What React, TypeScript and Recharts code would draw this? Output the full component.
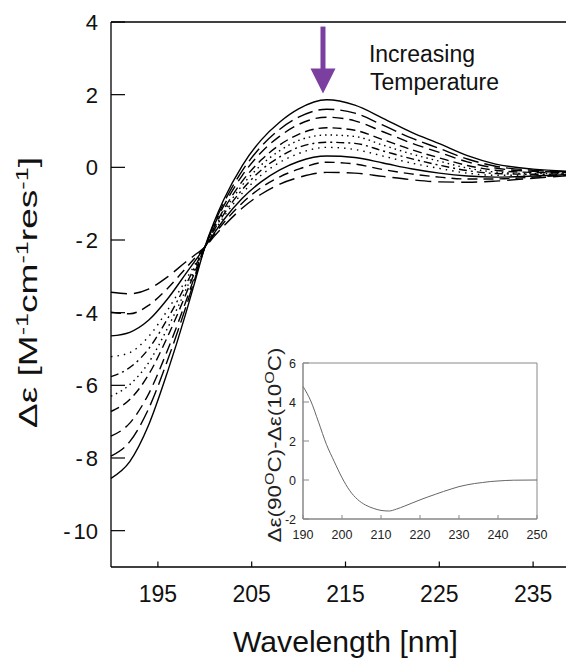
import React from 'react';
import { LineChart, Line, XAxis, YAxis, ReferenceLine, ReferenceArea, ReferenceDot, Label } from 'recharts';

const FONT = '"Liberation Sans", Arial, Helvetica, sans-serif';

// wavelength grid (nm) for the CD spectra
const wavelength = [190, 192, 194, 196, 198, 199, 200, 201, 202, 204, 206, 208, 210, 213, 216, 219, 222, 225, 228, 231, 235, 240];

// Δε per temperature, coldest first
const temp1 = [-8.56, -8.1, -7.1, -5.65, -4.0, -3.1, -2.2, -1.5, -0.9, 0.05, 0.75, 1.25, 1.61, 1.86, 1.71, 1.35, 0.97, 0.65, 0.32, 0.09, -0.05, -0.12];
const temp2 = [-7.95, -7.55, -6.65, -5.33, -3.83, -3.02, -2.2, -1.55, -0.99, -0.09, 0.57, 1.05, 1.38, 1.6, 1.49, 1.16, 0.81, 0.52, 0.23, 0.03, -0.08, -0.13];
const temp3 = [-7.4, -7.04, -6.24, -5.05, -3.68, -2.94, -2.2, -1.59, -1.07, -0.22, 0.41, 0.86, 1.18, 1.38, 1.28, 0.98, 0.67, 0.41, 0.15, -0.02, -0.11, -0.14];
const temp4 = [-6.72, -6.39, -5.71, -4.68, -3.48, -2.84, -2.2, -1.65, -1.17, -0.38, 0.2, 0.62, 0.91, 1.09, 1.02, 0.76, 0.49, 0.26, 0.05, -0.08, -0.14, -0.15];
const temp5 = [-6.3, -5.98, -5.38, -4.44, -3.36, -2.78, -2.2, -1.68, -1.23, -0.49, 0.06, 0.46, 0.74, 0.89, 0.85, 0.61, 0.37, 0.17, -0.02, -0.13, -0.17, -0.16];
const temp6 = [-5.76, -5.51, -5.0, -4.18, -3.22, -2.71, -2.2, -1.72, -1.3, -0.61, -0.08, 0.29, 0.55, 0.69, 0.66, 0.45, 0.24, 0.06, -0.09, -0.17, -0.19, -0.17];
const temp7 = [-5.21, -5.1, -4.66, -3.94, -3.09, -2.65, -2.2, -1.76, -1.37, -0.71, -0.22, 0.14, 0.38, 0.55, 0.49, 0.31, 0.12, -0.03, -0.16, -0.22, -0.21, -0.18];
const temp8 = [-4.64, -4.54, -4.21, -3.63, -2.92, -2.56, -2.2, -1.81, -1.45, -0.85, -0.4, -0.07, 0.16, 0.31, 0.27, 0.12, -0.04, -0.16, -0.24, -0.27, -0.24, -0.19];
const temp9 = [-3.99, -4.03, -3.8, -3.34, -2.77, -2.48, -2.2, -1.85, -1.53, -0.98, -0.56, -0.26, -0.05, 0.14, 0.09, -0.06, -0.18, -0.27, -0.32, -0.32, -0.27, -0.2];
const temp10 = [-3.44, -3.48, -3.35, -3.02, -2.6, -2.4, -2.2, -1.9, -1.62, -1.12, -0.74, -0.46, -0.28, -0.14, -0.16, -0.25, -0.34, -0.4, -0.41, -0.38, -0.3, -0.21];

const xTicks = [195, 205, 215, 225, 235];
const yTicks = [4, 2, 0, -2, -4, -6, -8, -10];

// inset: Δε(90°C) - Δε(10°C)
const diffWavelength = [190, 192, 194, 196, 198, 200, 202, 204, 206, 208, 210, 212, 214, 216, 218, 220, 222, 224, 226, 228, 230, 232, 234, 236, 238, 240, 244, 250];
const diffValue = [4.8, 4.05, 2.96, 1.83, 0.95, 0.12, -0.55, -1.0, -1.28, -1.45, -1.56, -1.59, -1.49, -1.34, -1.18, -1.02, -0.87, -0.73, -0.59, -0.46, -0.34, -0.25, -0.18, -0.13, -0.08, -0.05, -0.01, 0.0];
const insetXTicks = [190, 200, 210, 220, 230, 240, 250];
const insetYTicks = [-2, 0, 2, 4, 6];

const spectra = [temp1, temp2, temp3, temp4, temp5, temp6, temp7, temp8, temp9, temp10];
const dashes = [undefined, '16 6', '11 6', '9 5', '1.5 4', '8 4 2 4', '1.5 5', undefined, '10 6', '16 7'];

const mainData = wavelength.map((w, i) => {
  const row: any = { w };
  spectra.forEach((s, k) => { row['t' + (k + 1)] = s[i]; });
  return row;
});
const insetData = diffWavelength.map((w, i) => ({ w, d: diffValue[i] }));

const MainXTick = ({ x, y, payload }: any) => (
  <g>
    <line x1={x} y1={y} x2={x} y2={y - 5.5} stroke="#000" strokeWidth={1.2} />
    <text x={x} y={y + 35} textAnchor="middle" fontSize={23} fill="#111" fontFamily={FONT}>{payload.value}</text>
  </g>
);

// negative labels get a little extra room after the hyphen, as in the original
const MainYTick = ({ x, y, payload }: any) => {
  const s = String(payload.value);
  return (
    <g>
      <line x1={x} y1={y} x2={x + 14} y2={y} stroke="#000" strokeWidth={1.2} />
      <text x={x - 13} y={y + 8} textAnchor="end" fontSize={22} fill="#111" fontFamily={FONT}>
        {s.startsWith('-') ? (<><tspan>-</tspan><tspan dx={3}>{s.slice(1)}</tspan></>) : s}
      </text>
    </g>
  );
};

const InsetXTick = ({ x, y, payload }: any) => (
  <g>
    <line x1={x} y1={y} x2={x} y2={y - 4} stroke="#888" strokeWidth={1} />
    <text x={x} y={y + 20} textAnchor="middle" fontSize={12.5} fill="#222" fontFamily={FONT}>{payload.value}</text>
  </g>
);

const InsetYTick = ({ x, y, payload }: any) => (
  <g>
    <line x1={x} y1={y} x2={x + 6} y2={y} stroke="#888" strokeWidth={1} />
    <text x={x - 7} y={y + 4.5} textAnchor="end" fontSize={12.5} fill="#222" fontFamily={FONT}>{payload.value}</text>
  </g>
);

const Arrow = ({ cx, cy }: any) => (
  <g>
    <rect x={cx - 2.5} y={cy - 67} width={5} height={44} fill="#7b3fa0" />
    <polygon points={`${cx - 12.5},${cy - 25} ${cx + 12.5},${cy - 25} ${cx},${cy}`} fill="#7b3fa0" />
  </g>
);

const Note = ({ cx, cy }: any) => (
  <text x={cx} y={cy} fontSize={23} fill="#111" fontFamily={FONT}>
    <tspan x={cx}>Increasing</tspan>
    <tspan x={cx + 1} dy={28}>Temperature</tspan>
  </text>
);

const App = () => (
  <div style={{ position: 'relative', width: 566, height: 652, overflow: 'hidden', background: '#fff' }}>
    <LineChart width={580} height={650} data={mainData} margin={{ top: 14, right: 8, left: 0, bottom: 0 }}>
      <XAxis
        dataKey="w" type="number" domain={[190, 240]} ticks={xTicks} interval={0}
        height={91} tickSize={0} tickMargin={0} tick={MainXTick}
        axisLine={{ stroke: '#000', strokeWidth: 1.3 }} tickLine={false}
      >
        <Label content={({ viewBox }: any) => (
          <text x={viewBox.x + viewBox.width / 2} y={viewBox.y + 85} textAnchor="middle" fontSize={29}
            textLength={225} lengthAdjust="spacingAndGlyphs" fill="#111" fontFamily={FONT}>
            Wavelength [nm]
          </text>
        )} />
      </XAxis>
      <YAxis
        type="number" domain={[-11, 4]} ticks={yTicks} interval={0}
        width={103} tickSize={0} tickMargin={0} tick={MainYTick}
        axisLine={{ stroke: '#000', strokeWidth: 1.3 }} tickLine={false}
      >
        <Label content={({ viewBox }: any) => {
          const cx = viewBox.x + 29;
          const cy = viewBox.y + viewBox.height / 2 - 2;
          return (
            <text x={cx} y={cy} transform={`rotate(-90 ${cx} ${cy})`} textAnchor="middle" fontSize={25}
              textLength={271} lengthAdjust="spacingAndGlyphs" fill="#111" fontFamily={FONT}>
              Δε [M<tspan dy={-9} fontSize={17}>-1</tspan>
              <tspan dy={9}>cm</tspan><tspan dy={-9} fontSize={17}>-1</tspan>
              <tspan dy={9}>res</tspan><tspan dy={-9} fontSize={17}>-1</tspan>
              <tspan dy={9}>]</tspan>
            </text>
          );
        }} />
      </YAxis>
      <ReferenceLine y={4} stroke="#000" strokeWidth={1.3} />
      <ReferenceLine x={240} stroke="#000" strokeWidth={1.3} />
      {spectra.map((_, k) => (
        <Line
          key={k} dataKey={'t' + (k + 1)} type="monotone" stroke="#000" strokeWidth={1.4}
          strokeDasharray={dashes[k]} dot={false} activeDot={false} isAnimationActive={false}
        />
      ))}
      <ReferenceDot x={212.6} y={2.03} r={0} shape={Arrow} />
      <ReferenceDot x={217.5} y={2.89} r={0} shape={Note} />
    </LineChart>

    <div style={{ position: 'absolute', left: 242, top: 332 }}>
      <LineChart width={300} height={215} data={insetData} margin={{ top: 23, right: 13, left: 0, bottom: 0 }}>
        <XAxis
          dataKey="w" type="number" domain={[190, 250]} ticks={insetXTicks} interval={0}
          height={36} tickSize={0} tickMargin={0} tick={InsetXTick}
          axisLine={{ stroke: '#888' }} tickLine={false}
        />
        <YAxis
          type="number" domain={[-2, 6]} ticks={insetYTicks} interval={0}
          width={53} tickSize={0} tickMargin={0} tick={InsetYTick}
          axisLine={{ stroke: '#888' }} tickLine={false}
        >
          <Label content={({ viewBox }: any) => {
            const cx = viewBox.x + 31;
            const cy = viewBox.y + viewBox.height / 2 + 4;
            return (
              <text x={cx} y={cy} transform={`rotate(-90 ${cx} ${cy})`} textAnchor="middle" fontSize={18}
                textLength={195} lengthAdjust="spacingAndGlyphs" fill="#222" fontFamily={FONT}>
                Δε(90<tspan dy={-7} fontSize={13}>O</tspan><tspan dy={7}>C)-Δε(10</tspan><tspan dy={-7} fontSize={13}>O</tspan><tspan dy={7}>C)</tspan>
              </text>
            );
          }} />
        </YAxis>
        <ReferenceArea x1={190} x2={250} y1={-2} y2={6} fill="none" stroke="#888" strokeWidth={1} />
        <Line dataKey="d" type="monotone" stroke="#666" strokeWidth={1} dot={false} activeDot={false} isAnimationActive={false} />
      </LineChart>
    </div>
  </div>
);

export default App;
